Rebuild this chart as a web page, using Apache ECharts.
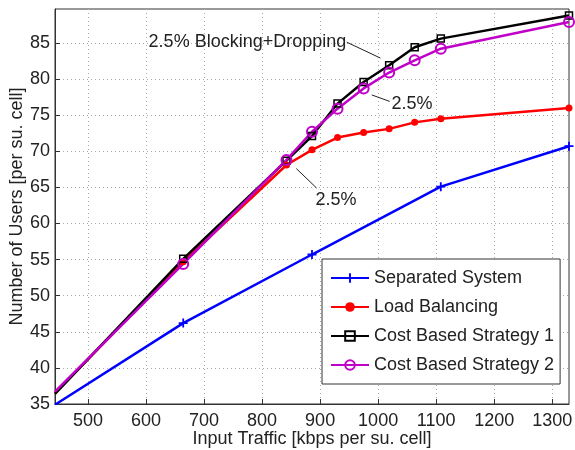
<!DOCTYPE html>
<html>
<head>
<meta charset="utf-8">
<script src="https://cdn.jsdelivr.net/npm/echarts@6/dist/echarts.min.js"></script>
<style>
  html, body { margin: 0; padding: 0; background: #fff; }
  #main { width: 575px; height: 450px; }
</style>
</head>
<body>
<div id="main"></div>
<script>
var traffic = [443, 664, 842, 886, 930, 975, 1019, 1063, 1108, 1329];
var trafficSeparated = [443, 664, 886, 1108, 1329];

var separated = [34.9, 46.2, 55.7, 65.1, 70.7];
var loadBalancing = [36.5, 54.7, 68.1, 70.2, 71.9, 72.6, 73.1, 74.0, 74.5, 76.0];
var costBased1 = [36.4, 55.1, 68.7, 72.1, 76.6, 79.6, 81.9, 84.4, 85.6, 88.8];
var costBased2 = [36.7, 54.4, 68.8, 72.7, 75.9, 78.7, 80.9, 82.6, 84.2, 87.9];

var xTicks = [500, 600, 700, 800, 900, 1000, 1100, 1200, 1300];
var yTicks = [35, 40, 45, 50, 55, 60, 65, 70, 75, 80, 85];

var seriesNames = ['Separated System', 'Load Balancing', 'Cost Based Strategy 1', 'Cost Based Strategy 2'];

// annotations: text position and arrow (tail -> head) in data units
var notes = [
  { text: '2.5% Blocking+Dropping', at: [945, 85.1], align: 'right', from: [946, 85.1], to: [1004, 82.9] },
  { text: '2.5%', at: [1023, 76.5], align: 'left', from: [1020, 76.9], to: [989, 77.8] },
  { text: '2.5%', at: [892, 63.3], align: 'left', from: [894, 64.9], to: [859, 67.6] }
];

var FONT = 'Liberation Sans Narrow, Liberation Sans, Arial, sans-serif';
var TXT = '#222';

// first point sits on the left border, no marker drawn there
function pairs(xs, ys) {
  return xs.map(function (x, i) {
    return i === 0 ? { value: [x, ys[i]], symbol: 'none' } : [x, ys[i]];
  });
}

var myChart = echarts.init(document.getElementById('main'));

var option = {
  backgroundColor: '#fff',
  animation: false,
  textStyle: { fontFamily: FONT },
  grid: {
    left: 55, right: 6, top: 9, bottom: 46,
    outerBoundsMode: 'none',
    show: true, borderColor: '#333', borderWidth: 1
  },
  legend: {
    orient: 'vertical',
    left: 322, top: 259,
    data: seriesNames,
    itemWidth: 38, itemHeight: 12, itemGap: 11,
    padding: [10, 6, 10, 8],
    backgroundColor: '#fff',
    borderColor: '#333', borderWidth: 1,
    textStyle: { fontFamily: FONT, fontSize: 18, color: TXT }
  },
  xAxis: {
    type: 'value', min: 443, max: 1329,
    name: 'Input Traffic [kbps per su. cell]',
    nameLocation: 'middle', nameGap: 26, nameMoveOverlap: false,
    nameTextStyle: { fontFamily: FONT, fontSize: 18, color: TXT },
    axisLine: { lineStyle: { color: '#333' } },
    axisTick: { inside: true, length: 5, customValues: xTicks, lineStyle: { color: '#333' } },
    axisLabel: {
      customValues: xTicks, margin: 8, fontFamily: FONT, fontSize: 18, color: TXT,
      formatter: function (v) { return String(v); }
    },
    splitLine: { show: true, lineStyle: { type: [1, 3], color: '#aaa' } }
  },
  yAxis: {
    type: 'value', min: 35, max: 89.7,
    name: 'Number of Users [per su. cell]',
    nameLocation: 'middle', nameGap: 29, nameMoveOverlap: false,
    nameTextStyle: { fontFamily: FONT, fontSize: 18, color: TXT },
    axisLine: { show: true, lineStyle: { color: '#333' } },
    axisTick: { show: true, inside: true, length: 5, customValues: yTicks, lineStyle: { color: '#333' } },
    axisLabel: { customValues: yTicks, margin: 5, fontFamily: FONT, fontSize: 18, color: TXT },
    splitLine: { show: true, lineStyle: { type: [1, 3], color: '#aaa' } }
  },
  series: [{
    name: seriesNames[0], type: 'line',
    data: pairs(trafficSeparated, separated),
    symbol: 'path://M4,0h2v4h4v2h-4v4h-2v-4h-4v-2h4z', symbolSize: 9,
    itemStyle: { color: '#0000ff' },
    lineStyle: { color: '#0000ff', width: 2.5 }
  }, {
    name: seriesNames[1], type: 'line',
    data: pairs(traffic, loadBalancing),
    symbol: 'circle', symbolSize: 7,
    itemStyle: { color: '#ff0000' },
    lineStyle: { color: '#ff0000', width: 2.5 }
  }, {
    name: seriesNames[2], type: 'line',
    data: pairs(traffic, costBased1),
    symbol: 'rect', symbolSize: 7,
    itemStyle: { color: 'transparent', borderColor: '#000', borderWidth: 1.5 },
    lineStyle: { color: '#000', width: 2.5 }
  }, {
    name: seriesNames[3], type: 'line',
    data: pairs(traffic, costBased2),
    symbol: 'circle', symbolSize: 10,
    itemStyle: { color: 'transparent', borderColor: '#c000c8', borderWidth: 2 },
    lineStyle: { color: '#c000c8', width: 2.5 },
    markLine: {
      silent: true,
      symbol: ['none', 'arrow'], symbolSize: [0, 10],
      label: { show: false },
      lineStyle: { color: '#222', width: 1, type: 'solid' },
      data: notes.map(function (n) {
        return [{ coord: n.from }, { coord: n.to }];
      })
    },
    markPoint: {
      silent: true,
      symbol: 'circle', symbolSize: 0,
      data: notes.map(function (n) {
        return {
          coord: n.at,
          label: {
            show: true, formatter: n.text, position: 'inside',
            align: n.align, verticalAlign: 'middle',
            fontFamily: FONT, fontSize: 18, color: TXT
          }
        };
      })
    }
  }]
};

myChart.setOption(option);
</script>
</body>
</html>
